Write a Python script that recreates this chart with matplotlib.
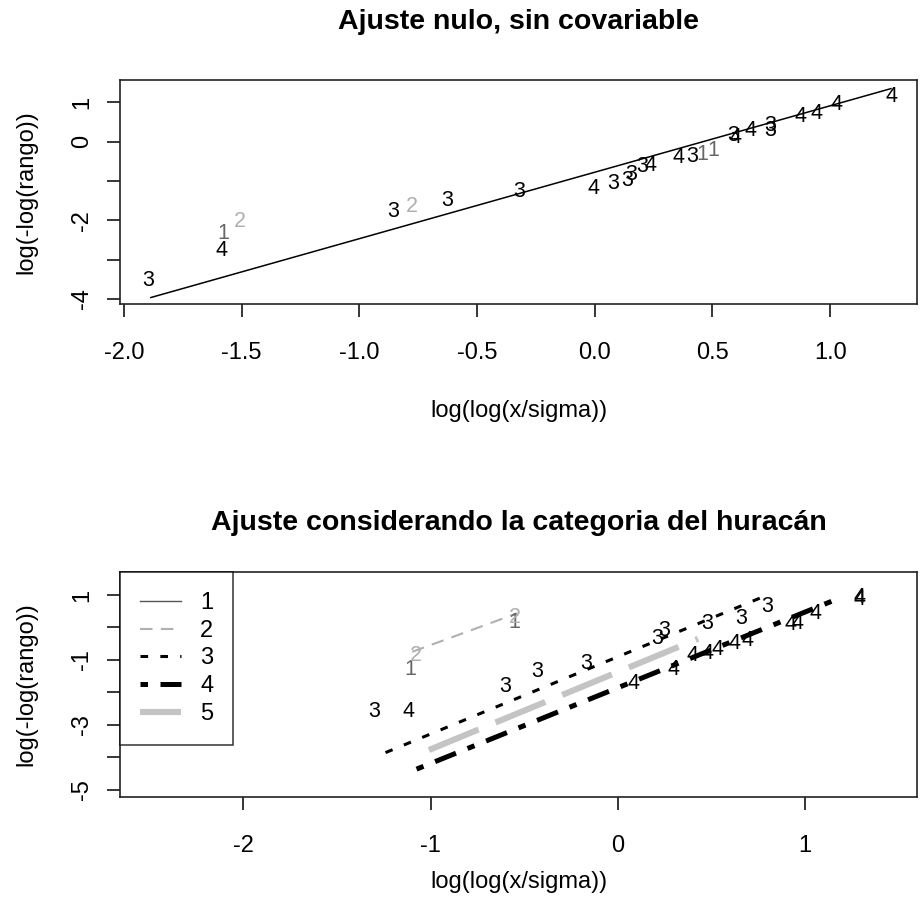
import matplotlib
matplotlib.use('Agg')
import matplotlib.pyplot as plt
from matplotlib.lines import Line2D

plt.rcParams['font.family'] = ['Liberation Sans', 'DejaVu Sans']
plt.rcParams['axes.unicode_minus'] = False

# --- panel superior: ajuste nulo ---
top_pts = {
    '1': ([-1.577, 0.459, 0.504], [-2.34, -0.34, -0.22]),
    '2': ([-1.506, -0.777], [-2.04, -1.66]),
    '3': ([-1.896, -0.855, -0.628, -0.320, 0.079, 0.136, 0.157, 0.200, 0.412, 0.59, 0.745, 0.745],
          [-3.52, -1.79, -1.49, -1.28, -1.06, -0.98, -0.85, -0.64, -0.39, 0.15, 0.42, 0.27]),
    '4': ([-1.584, -0.006, 0.235, 0.355, 0.60, 0.66, 0.872, 0.943, 1.028, 1.261],
          [-2.76, -1.19, -0.60, -0.40, 0.10, 0.29, 0.63, 0.72, 0.93, 1.14]),
}
top_fit_x = [-1.888, 1.261]
top_fit_y = [-3.97, 1.35]

# --- panel inferior: por categoria ---
bot_pts = {
    '1': ([-1.107, -0.55], [-1.31, 0.15]),
    '2': ([-1.08, -0.55], [-0.85, 0.32]),
    '3': ([-1.303, -0.599, -0.429, -0.171, 0.212, 0.248, 0.48, 0.658, 0.80],
          [-2.60, -1.83, -1.36, -1.10, -0.33, -0.08, 0.13, 0.28, 0.64]),
    '4': ([-1.116, 0.087, 0.30, 0.40, 0.48, 0.533, 0.622, 0.694, 0.925, 0.961, 1.059, 1.29, 1.29],
          [-2.60, -1.72, -1.31, -0.85, -0.80, -0.69, -0.49, -0.39, 0.08, 0.13, 0.44, 0.93, 0.85]),
}
bot_fit_x = {'2': [-1.098, -0.536], '3': [-1.241, 0.80], '4': [-1.075, 1.183], '5': [-1.009, 0.43]}
bot_fit_y = {'2': [-0.75, 0.44], '3': [-3.86, 1.00], '4': [-4.37, 0.90], '5': [-3.78, -0.35]}
legend_labels = ['1', '2', '3', '4', '5']

pt_color = {'1': '#666666', '2': '#b0b0b0', '3': 'black', '4': 'black'}
line_style = {
    '1': dict(color='#555555', lw=1.0, linestyle='-'),
    '2': dict(color='#b0b0b0', lw=1.5, linestyle=(0, (6, 4))),
    '3': dict(color='black', lw=2.2, linestyle=(0, (2.5, 4))),
    '4': dict(color='black', lw=3.6, linestyle=(0, (1.5, 2.5, 4.5, 2.5))),
    '5': dict(color='#c4c4c4', lw=4.4, linestyle=(0, (8.8, 3))),
}

FS = 17
fig = plt.figure(figsize=(9.21, 9.16), dpi=100)


def style_axes(ax):
    for s in ax.spines.values():
        s.set_linewidth(1.2)
        s.set_color('#222222')
    ax.tick_params(direction='out', length=9.5, width=1.1, labelsize=FS)
    ax.tick_params(axis='x', pad=18)
    ax.tick_params(axis='y', pad=10)
    for lab in ax.get_yticklabels():
        lab.set_rotation(90)
        lab.set_va('center')


# panel superior
ax1 = fig.add_axes([0.1303, 0.6681, 0.8654, 0.2446])
ax1.plot(top_fit_x, top_fit_y, color='black', lw=1.1, solid_capstyle='butt')
for cat, (xs, ys) in top_pts.items():
    for x, y in zip(xs, ys):
        ax1.text(x, y, cat, color=pt_color[cat], fontsize=15.5, ha='center', va='center')
ax1.set_xlim(-2.016, 1.369)
ax1.set_ylim(-4.13, 1.565)
ax1.set_xticks([-2.0, -1.5, -1.0, -0.5, 0.0, 0.5, 1.0])
ax1.set_xticklabels(['-2.0', '-1.5', '-1.0', '-0.5', '0.0', '0.5', '1.0'])
ax1.set_yticks([1, 0, -1, -2, -3, -4])
ax1.set_yticklabels(['1', '0', '', '-2', '', '-4'])
style_axes(ax1)
ax1.set_xlabel('log(log(x/sigma))', fontsize=FS, labelpad=26)
ax1.set_ylabel('log(-log(rango))', fontsize=FS, labelpad=24)
ax1.set_title('Ajuste nulo, sin covariable', fontsize=20.5, fontweight='bold', pad=37)

# panel inferior
ax2 = fig.add_axes([0.1303, 0.1299, 0.8654, 0.2456])
for cat in ['5', '2', '3', '4']:
    ax2.plot(bot_fit_x[cat], bot_fit_y[cat], solid_capstyle='butt', dash_capstyle='butt',
             **line_style[cat])
for cat, (xs, ys) in bot_pts.items():
    for x, y in zip(xs, ys):
        ax2.text(x, y, cat, color=pt_color[cat], fontsize=15.5, ha='center', va='center')
ax2.set_xlim(-2.66, 1.60)
ax2.set_ylim(-5.23, 1.71)
ax2.set_xticks([-2, -1, 0, 1])
ax2.set_xticklabels(['-2', '-1', '0', '1'])
ax2.set_yticks([1, 0, -1, -2, -3, -4, -5])
ax2.set_yticklabels(['1', '', '-1', '', '-3', '', '-5'])
style_axes(ax2)
ax2.set_xlabel('log(log(x/sigma))', fontsize=FS, labelpad=10)
ax2.set_ylabel('log(-log(rango))', fontsize=FS, labelpad=24)
ax2.set_title('Ajuste considerando la categoria del huracán', fontsize=20.5,
              fontweight='bold', pad=30)

handles = [Line2D([], [], dash_capstyle='butt', **line_style[c]) for c in legend_labels]
leg = ax2.legend(handles, legend_labels, loc='upper left', bbox_to_anchor=(0, 1),
                 borderaxespad=0, fontsize=FS, fancybox=False, frameon=True,
                 handlelength=1.75, handletextpad=0.8, borderpad=0.85, labelspacing=0.24)
leg.get_frame().set_edgecolor('black')
leg.get_frame().set_linewidth(1.1)

fig.savefig('out.png', dpi=100)
